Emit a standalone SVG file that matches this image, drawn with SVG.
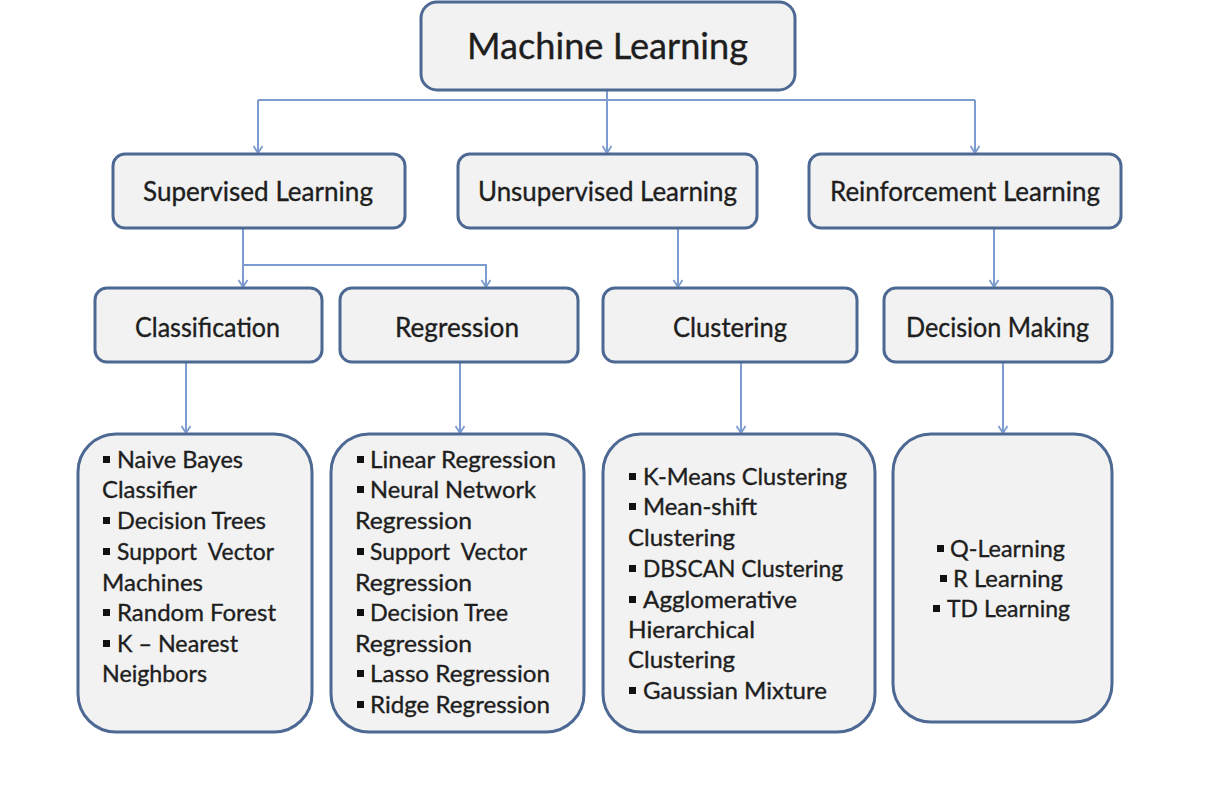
<svg xmlns="http://www.w3.org/2000/svg" width="1212" height="790" viewBox="0 0 1212 790">
<style>
.box{fill:#f2f2f2;stroke:#4c6893;stroke-width:3}
.con{fill:none;stroke:#7c9cd0;stroke-width:2}
text{font-family:Lato,"Open Sans","Liberation Sans",sans-serif;fill:#1e1e1e;stroke:#1e1e1e;stroke-width:0.35}
.h1{font-size:36px;text-anchor:start}
.h2{font-size:26px}
.li{font-size:23px}
.b{fill:#111}
</style>
<defs>
<marker id="arr" viewBox="-1 -6 10 12" refX="7" refY="0" markerWidth="10" markerHeight="12" markerUnits="userSpaceOnUse" orient="auto">
<path d="M0,-4.5 L7,0 L0,4.5" fill="none" stroke="#7c9cd0" stroke-width="1.8"/>
</marker>
</defs>
<rect width="1212" height="790" fill="#ffffff"/>
<g id="connectors">
<path class="con" d="M607,91 V153" marker-end="url(#arr)"/>
<path class="con" d="M258,100 H975"/>
<path class="con" d="M258,100 V153" marker-end="url(#arr)"/>
<path class="con" d="M975,100 V153" marker-end="url(#arr)"/>
<path class="con" d="M243,228 V287" marker-end="url(#arr)"/>
<path class="con" d="M243,265 H486 V287" marker-end="url(#arr)"/>
<path class="con" d="M678,228 V287" marker-end="url(#arr)"/>
<path class="con" d="M994,228 V287" marker-end="url(#arr)"/>
<path class="con" d="M186,362 V433" marker-end="url(#arr)"/>
<path class="con" d="M460,362 V433" marker-end="url(#arr)"/>
<path class="con" d="M741,362 V433" marker-end="url(#arr)"/>
<path class="con" d="M1003,362 V433" marker-end="url(#arr)"/>
</g>
<g id="machine-learning">
<rect class="box" x="421" y="2" width="374" height="88" rx="16"/>
<text class="h1" x="467" y="59" textLength="281" lengthAdjust="spacingAndGlyphs">Machine Learning</text>
</g>
<g id="supervised">
<rect class="box" x="113" y="154" width="292" height="74" rx="12"/>
<text class="h2" x="143" y="201" textLength="230" lengthAdjust="spacingAndGlyphs">Supervised Learning</text>
</g>
<g id="unsupervised">
<rect class="box" x="458" y="154" width="299" height="74" rx="12"/>
<text class="h2" x="478" y="201" textLength="259" lengthAdjust="spacingAndGlyphs">Unsupervised Learning</text>
</g>
<g id="reinforcement">
<rect class="box" x="809" y="154" width="312" height="74" rx="12"/>
<text class="h2" x="830" y="201" textLength="270" lengthAdjust="spacingAndGlyphs">Reinforcement Learning</text>
</g>
<g id="classification">
<rect class="box" x="95" y="288" width="227" height="74" rx="12"/>
<text class="h2" x="135" y="337" textLength="145" lengthAdjust="spacingAndGlyphs">Classification</text>
</g>
<g id="regression">
<rect class="box" x="340" y="288" width="238" height="74" rx="12"/>
<text class="h2" x="395" y="337" textLength="124" lengthAdjust="spacingAndGlyphs">Regression</text>
</g>
<g id="clustering">
<rect class="box" x="603" y="288" width="254" height="74" rx="12"/>
<text class="h2" x="673" y="337" textLength="114" lengthAdjust="spacingAndGlyphs">Clustering</text>
</g>
<g id="decision-making">
<rect class="box" x="884" y="288" width="228" height="74" rx="12"/>
<text class="h2" x="906" y="337" textLength="183" lengthAdjust="spacingAndGlyphs">Decision Making</text>
</g>
<g id="classification-list">
<rect class="box" x="78" y="434" width="234" height="298" rx="38"/>
<rect class="b" x="103" y="456" width="7" height="7"/>
<text class="li" x="117" y="468" textLength="126" lengthAdjust="spacingAndGlyphs">Naive Bayes</text>
<text class="li" x="102" y="498" textLength="95" lengthAdjust="spacingAndGlyphs">Classifier</text>
<rect class="b" x="103" y="517" width="7" height="7"/>
<text class="li" x="117" y="529" textLength="149" lengthAdjust="spacingAndGlyphs">Decision Trees</text>
<rect class="b" x="103" y="548" width="7" height="7"/>
<text class="li" x="117" y="560" textLength="157" lengthAdjust="spacingAndGlyphs" xml:space="preserve">Support  Vector</text>
<text class="li" x="102" y="591" textLength="101" lengthAdjust="spacingAndGlyphs">Machines</text>
<rect class="b" x="103" y="609" width="7" height="7"/>
<text class="li" x="117" y="621" textLength="159" lengthAdjust="spacingAndGlyphs">Random Forest</text>
<rect class="b" x="103" y="640" width="7" height="7"/>
<text class="li" x="117" y="652" textLength="121" lengthAdjust="spacingAndGlyphs">K – Nearest</text>
<text class="li" x="102" y="682" textLength="105" lengthAdjust="spacingAndGlyphs">Neighbors</text>
</g>
<g id="regression-list">
<rect class="box" x="331" y="434" width="253" height="298" rx="38"/>
<rect class="b" x="357" y="456" width="7" height="7"/>
<text class="li" x="370" y="468" textLength="186" lengthAdjust="spacingAndGlyphs">Linear Regression</text>
<rect class="b" x="357" y="486" width="7" height="7"/>
<text class="li" x="370" y="498" textLength="166" lengthAdjust="spacingAndGlyphs">Neural Network</text>
<text class="li" x="355" y="529" textLength="117" lengthAdjust="spacingAndGlyphs">Regression</text>
<rect class="b" x="357" y="548" width="7" height="7"/>
<text class="li" x="370" y="560" textLength="157" lengthAdjust="spacingAndGlyphs" xml:space="preserve">Support  Vector</text>
<text class="li" x="355" y="591" textLength="117" lengthAdjust="spacingAndGlyphs">Regression</text>
<rect class="b" x="357" y="609" width="7" height="7"/>
<text class="li" x="370" y="621" textLength="138" lengthAdjust="spacingAndGlyphs">Decision Tree</text>
<text class="li" x="355" y="652" textLength="117" lengthAdjust="spacingAndGlyphs">Regression</text>
<rect class="b" x="357" y="670" width="7" height="7"/>
<text class="li" x="370" y="682" textLength="180" lengthAdjust="spacingAndGlyphs">Lasso Regression</text>
<rect class="b" x="357" y="701" width="7" height="7"/>
<text class="li" x="370" y="713" textLength="180" lengthAdjust="spacingAndGlyphs">Ridge Regression</text>
</g>
<g id="clustering-list">
<rect class="box" x="603" y="434" width="272" height="298" rx="38"/>
<rect class="b" x="629" y="473" width="7" height="7"/>
<text class="li" x="643" y="485" textLength="204" lengthAdjust="spacingAndGlyphs">K-Means Clustering</text>
<rect class="b" x="629" y="503" width="7" height="7"/>
<text class="li" x="643" y="515" textLength="114" lengthAdjust="spacingAndGlyphs">Mean-shift</text>
<text class="li" x="628" y="546" textLength="107" lengthAdjust="spacingAndGlyphs">Clustering</text>
<rect class="b" x="629" y="565" width="7" height="7"/>
<text class="li" x="643" y="577" textLength="200" lengthAdjust="spacingAndGlyphs">DBSCAN Clustering</text>
<rect class="b" x="629" y="596" width="7" height="7"/>
<text class="li" x="643" y="608" textLength="154" lengthAdjust="spacingAndGlyphs">Agglomerative</text>
<text class="li" x="628" y="638" textLength="127" lengthAdjust="spacingAndGlyphs">Hierarchical</text>
<text class="li" x="628" y="668" textLength="107" lengthAdjust="spacingAndGlyphs">Clustering</text>
<rect class="b" x="629" y="687" width="7" height="7"/>
<text class="li" x="643" y="699" textLength="184" lengthAdjust="spacingAndGlyphs">Gaussian Mixture</text>
</g>
<g id="decision-list">
<rect class="box" x="893" y="434" width="219" height="288" rx="38"/>
<rect class="b" x="937" y="545" width="7" height="7"/>
<text class="li" x="950" y="557" textLength="115" lengthAdjust="spacingAndGlyphs">Q-Learning</text>
<rect class="b" x="940" y="575" width="7" height="7"/>
<text class="li" x="953" y="587" textLength="110" lengthAdjust="spacingAndGlyphs">R Learning</text>
<rect class="b" x="933" y="605" width="7" height="7"/>
<text class="li" x="947" y="617" textLength="123" lengthAdjust="spacingAndGlyphs">TD Learning</text>
</g>
</svg>
